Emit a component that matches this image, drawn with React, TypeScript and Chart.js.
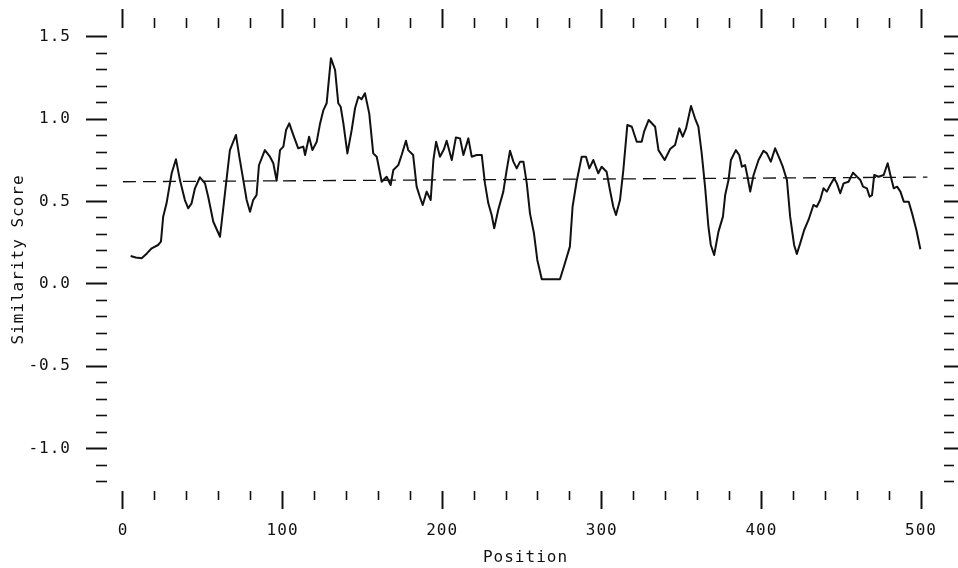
import { useEffect, useRef } from 'react';
import { Chart, registerables } from 'chart.js';

Chart.register(...registerables);

// Similarity score profile (position along sequence -> score)
const positions = [
  4.8, 8, 11.7, 15, 18, 22, 23.8, 25.2, 27.3, 30.5, 33.2, 35.7, 38.8, 40.9, 43, 45.1, 48.2, 51.4, 53.4, 56.6,
  60.8, 63.9, 67, 70.8, 72.9, 75.4, 77.5, 79.6, 81.6, 83.7, 85.2, 88.9, 92.1, 94.2, 96.3, 98.4, 100.5, 102.2,
  104.2, 106.7, 109.8, 113, 114.1, 116.6, 118.7, 121.4, 123.5, 125.6, 127.6, 130.3, 132.9, 134.9, 136.4, 138.1,
  140.6, 143.3, 145.4, 147.5, 149.5, 151.6, 154.3, 156.8, 159, 162.1, 165.2, 167.7, 169.4, 172.5, 174.6, 177.3,
  178.7, 181.8, 184, 186, 187.8, 190.3, 192.8, 194.5, 196.2, 198.6, 201.1, 202.8, 206, 208.6, 211.2, 213.3,
  216.4, 218.5, 221.6, 224.8, 226.8, 228.9, 231, 232.6, 235.1, 238.3, 240.4, 242.5, 244.6, 246.7, 248.8, 250.9,
  253, 255, 257.5, 259.6, 262.4, 273.8, 276.9, 280, 281.7, 284.2, 287.4, 290.1, 292.2, 294.7, 297.8, 299.9,
  303, 305.1, 307.2, 308.9, 311.4, 313.5, 316, 318.8, 321.9, 325, 326.5, 329.4, 333.4, 335.5, 339.4, 342.8,
  345.9, 348.6, 350.7, 352.8, 355.9, 358.4, 360.5, 362.6, 364.7, 366.8, 368.3, 370.4, 373.1, 375.9, 377.3,
  379.4, 380.9, 384, 386.1, 387.8, 389.8, 391.3, 393, 395.1, 398.2, 401.3, 403.4, 405.9, 408.6, 411.3, 413.4,
  416, 418, 420.5, 422.2, 424.3, 426.8, 429.5, 432.6, 434.7, 436.8, 438.9, 441, 443.1, 445.6, 447.3, 449.4,
  451.5, 454.6, 457.4, 459.9, 462, 463.7, 466.1, 467.8, 469.3, 470.7, 473.4, 476.6, 479.1, 480.8, 482.9, 485,
  487.1, 489.2, 492.3, 494.4, 497.1, 499.6,
];

const scores = [
  0.169, 0.16, 0.155, 0.185, 0.216, 0.236, 0.256, 0.408, 0.489, 0.671, 0.756, 0.63, 0.509, 0.459, 0.489, 0.58, 0.647, 0.61, 0.529, 0.377,
  0.286, 0.55, 0.812, 0.904, 0.772, 0.63, 0.509, 0.438, 0.509, 0.539, 0.72, 0.812, 0.772, 0.732, 0.626, 0.812, 0.833, 0.934,
  0.974, 0.904, 0.823, 0.833, 0.782, 0.893, 0.812, 0.863, 0.974, 1.055, 1.096, 1.37, 1.298, 1.096, 1.075, 0.974,
  0.792, 0.934, 1.066, 1.136, 1.12, 1.157, 1.035, 0.792, 0.772, 0.62, 0.65, 0.6, 0.691, 0.721, 0.782, 0.869,
  0.812, 0.782, 0.59, 0.529, 0.479, 0.56, 0.509, 0.752, 0.863, 0.772, 0.817, 0.869, 0.752, 0.889, 0.883, 0.782,
  0.883, 0.772, 0.782, 0.782, 0.61, 0.489, 0.418, 0.337, 0.448, 0.56, 0.691, 0.808, 0.742, 0.701, 0.742, 0.742,
  0.61, 0.428, 0.307, 0.145, 0.028, 0.028, 0.125, 0.226, 0.468, 0.62, 0.772, 0.772, 0.701, 0.752, 0.671, 0.711,
  0.681, 0.57, 0.468, 0.418, 0.509, 0.691, 0.964, 0.954, 0.863, 0.863, 0.924, 0.995, 0.954, 0.812, 0.752, 0.818,
  0.843, 0.944, 0.893, 0.944, 1.08, 1.005, 0.954, 0.792, 0.59, 0.347, 0.236, 0.175, 0.317, 0.408, 0.539,
  0.63, 0.752, 0.812, 0.782, 0.711, 0.721, 0.65, 0.56, 0.661, 0.752, 0.808, 0.792, 0.742, 0.823, 0.762, 0.711,
  0.63, 0.408, 0.236, 0.181, 0.246, 0.327, 0.388, 0.479, 0.468, 0.509, 0.58, 0.56, 0.6, 0.641, 0.61, 0.55,
  0.61, 0.62, 0.675, 0.65, 0.63, 0.59, 0.58, 0.529, 0.539, 0.661, 0.65, 0.661, 0.732, 0.661, 0.58, 0.59,
  0.56, 0.499, 0.499, 0.428, 0.327, 0.21,
];

// Dashed threshold line
const thresholdPositions = [0, 504];
const thresholdScores = [0.62, 0.648];

// Axis ticks
const xTickValues = [0, 20, 40, 60, 80, 100, 120, 140, 160, 180, 200, 220, 240, 260, 280, 300, 320, 340, 360, 380, 400, 420, 440, 460, 480, 500];
const xLabelValues = [0, 100, 200, 300, 400, 500];
const yTickValues = [-1.2, -1.1, -1.0, -0.9, -0.8, -0.7, -0.6, -0.5, -0.4, -0.3, -0.2, -0.1, 0, 0.1, 0.2, 0.3, 0.4, 0.5, 0.6, 0.7, 0.8, 0.9, 1.0, 1.1, 1.2, 1.3, 1.4, 1.5];
const yLabelValues = [-1.0, -0.5, 0, 0.5, 1.0, 1.5];

const X_MIN = -10;
const X_MAX = 514.4;
const Y_MIN = -1.257;
const Y_MAX = 1.553;

const INK = '#111';
const FONT = { family: "'DejaVu Sans Mono', monospace", size: 16 };

const isMajorX = (v: number) => Math.abs(v % 100) < 1e-6;
const isMajorY = (v: number) => Math.abs(Math.round(v * 10)) % 5 === 0;

function tickGrid(tl: number, minor: number, outerFirst: boolean, isMajor: (v: number) => boolean) {
  const major = (c: any) => (c && c.tick ? isMajor(c.tick.value) : false);
  return {
    display: true,
    drawOnChartArea: false,
    drawTicks: true,
    tickLength: tl,
    color: INK,
    tickColor: INK,
    tickWidth: (c: any) => (major(c) ? 2 : 1.6),
    tickBorderDash: (c: any) => (major(c) ? [] : [minor, tl - minor]),
    tickBorderDashOffset: (c: any) => (major(c) ? 0 : outerFirst ? minor : 0),
  };
}

const letterSpacingPlugin = {
  id: 'letterSpacing',
  beforeDraw(chart: any) {
    chart.ctx.letterSpacing = '1px';
  },
};

export default function App() {
  const canvasRef = useRef<HTMLCanvasElement | null>(null);

  useEffect(() => {
    if (!canvasRef.current) return;
    const curve = positions.map((x, i) => ({ x, y: scores[i] }));
    const threshold = thresholdPositions.map((x, i) => ({ x, y: thresholdScores[i] }));

    const chart = new Chart(canvasRef.current, {
      type: 'line',
      data: {
        datasets: [
          {
            data: curve,
            xAxisID: 'x',
            yAxisID: 'y',
            borderColor: INK,
            borderWidth: 2,
            pointRadius: 0,
            tension: 0,
            borderJoinStyle: 'round',
            fill: false,
          },
          {
            data: threshold,
            xAxisID: 'x',
            yAxisID: 'y',
            borderColor: INK,
            borderWidth: 1.3,
            borderDash: [13, 7],
            pointRadius: 0,
            fill: false,
          },
        ],
      },
      options: {
        animation: false,
        responsive: false,
        devicePixelRatio: 1,
        layout: { padding: 0 },
        plugins: { legend: { display: false }, tooltip: { enabled: false }, title: { display: false } },
        scales: {
          x: {
            type: 'linear',
            position: 'bottom',
            min: X_MIN,
            max: X_MAX,
            afterBuildTicks: (axis: any) => {
              axis.ticks = xTickValues.map((value) => ({ value }));
            },
            afterFit: (s: any) => {
              s.height = 77;
            },
            border: { display: false },
            grid: tickGrid(18, 9, false, isMajorX),
            ticks: {
              autoSkip: false,
              maxRotation: 0,
              minRotation: 0,
              padding: 12,
              color: INK,
              font: FONT,
              callback: (v: any) => (xLabelValues.includes(v) ? String(v) : ''),
            },
            title: {
              display: true,
              text: 'Position',
              color: INK,
              font: FONT,
              padding: { top: 0, bottom: 0.5 },
            },
          },
          x2: {
            type: 'linear',
            position: 'top',
            min: X_MIN,
            max: X_MAX,
            afterBuildTicks: (axis: any) => {
              axis.ticks = xTickValues.map((value) => ({ value }));
            },
            afterFit: (s: any) => {
              s.height = 28;
            },
            border: { display: false },
            grid: tickGrid(19, 10, true, isMajorX),
            ticks: { display: false, autoSkip: false, maxRotation: 0 },
          },
          y: {
            type: 'linear',
            position: 'left',
            min: Y_MIN,
            max: Y_MAX,
            afterBuildTicks: (axis: any) => {
              axis.ticks = yTickValues.map((value) => ({ value }));
            },
            afterFit: (s: any) => {
              s.width = 107;
            },
            border: { display: false },
            grid: tickGrid(21, 11, true, isMajorY),
            ticks: {
              autoSkip: false,
              padding: 15,
              color: INK,
              font: FONT,
              callback: (v: any) => (yLabelValues.includes(v) ? Number(v).toFixed(1) : ''),
            },
            title: {
              display: true,
              text: 'Similarity Score',
              color: INK,
              font: FONT,
              padding: { top: 9.5, bottom: 0 },
            },
          },
          y2: {
            type: 'linear',
            position: 'right',
            min: Y_MIN,
            max: Y_MAX,
            afterBuildTicks: (axis: any) => {
              axis.ticks = yTickValues.map((value) => ({ value }));
            },
            afterFit: (s: any) => {
              s.width = 14;
            },
            border: { display: false },
            grid: tickGrid(15, 10, false, isMajorY),
            ticks: { display: false, autoSkip: false },
          },
        },
      } as any,
      plugins: [letterSpacingPlugin],
    });
    return () => chart.destroy();
  }, []);

  return (
    <div style={{ position: 'fixed', left: 0, top: 0, width: 958, height: 568, background: '#fff' }}>
      <canvas ref={canvasRef} width={958} height={568} style={{ display: 'block', width: 958, height: 568 }} />
    </div>
  );
}
